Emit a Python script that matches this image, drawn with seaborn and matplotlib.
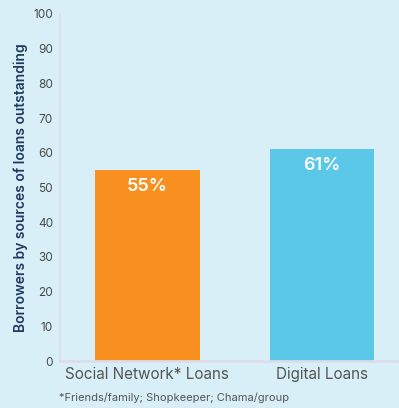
import matplotlib
matplotlib.use("Agg")
import matplotlib.pyplot as plt
import seaborn as sns
import pandas as pd

categories = ["Social Network* Loans", "Digital Loans"]
values = [55, 61]
value_labels = ["55%", "61%"]
bar_colors = ["#f7901e", "#5bc8e8"]
y_ticks = [0, 10, 20, 30, 40, 50, 60, 70, 80, 90, 100]

bg = "#d8eff7"
sns.set_theme(style="white")
plt.rcParams["font.family"] = ["Inter", "DejaVu Sans"]

df = pd.DataFrame({"source": categories, "share": values})

fig = plt.figure(figsize=(3.99, 4.08), dpi=100, facecolor=bg)
ax = fig.add_axes([60 / 399, 1 - 361 / 408, 337 / 399, 347 / 408])
ax.set_facecolor(bg)

sns.barplot(data=df, x="source", y="share", hue="source", palette=bar_colors,
            width=0.6, saturation=1, legend=False, linewidth=0, ax=ax)

ax.set_ylim(0, 100)
ax.set_xlim(-0.5, 1.43)
ax.set_yticks(y_ticks)
ax.tick_params(axis="y", labelsize=8.5, colors="#4a4a4a", length=0, pad=5)
ax.tick_params(axis="x", labelsize=11, colors="#555555", length=0, pad=4)
ax.set_xlabel("")
ax.set_ylabel("Borrowers by sources of loans outstanding", fontsize=10,
              color="#1f3a5f", fontweight="semibold", labelpad=4)

for side in ["top", "right"]:
    ax.spines[side].set_visible(False)
ax.spines["left"].set_color("#dcdcea")
ax.spines["left"].set_linewidth(1.2)
ax.spines["bottom"].set_color("#dcdcea")
ax.spines["bottom"].set_linewidth(2)

for i, (v, lab) in enumerate(zip(values, value_labels)):
    ax.annotate(lab, (i, v), xytext=(0, -12), textcoords="offset points",
                ha="center", va="center", color="white", fontsize=13,
                fontweight="semibold")

fig.text(59 / 399, 1 - 398 / 408, "*Friends/family; Shopkeeper; Chama/group",
         fontsize=8, color="#555555", va="center", ha="left")

fig.savefig("out.png", dpi=100, facecolor=bg)
